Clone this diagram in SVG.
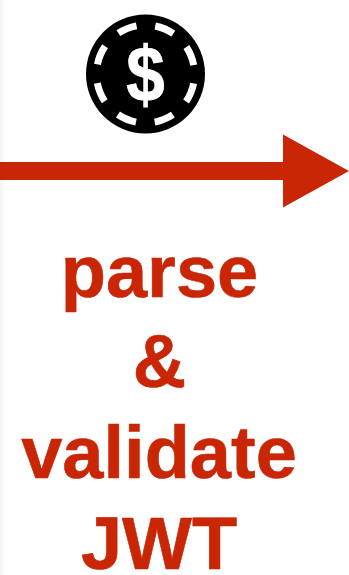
<svg xmlns="http://www.w3.org/2000/svg" width="349" height="575" viewBox="0 0 349 575">
<defs><linearGradient id="edge" x1="0" x2="1" y1="0" y2="0"><stop offset="0" stop-color="#f3f3f3"/><stop offset="1" stop-color="#ffffff"/></linearGradient></defs>
<style>
.label{font-family:"Liberation Sans",Arial,sans-serif;font-weight:700;font-size:74px;fill:#c92606;stroke:#c92606;stroke-width:.6px;text-anchor:middle}
</style>
<rect width="349" height="575" fill="#ffffff"/>
<rect width="6" height="575" fill="url(#edge)"/>
<g id="coin">
<circle cx="145.5" cy="74" r="59.5" fill="#000000"/>
<circle cx="145.5" cy="74" r="49" fill="none" stroke="#ffffff" stroke-width="7" stroke-dasharray="19.7 18.79" stroke-dashoffset="-9.4"/>
<text transform="translate(145.5,101) scale(.96,1.08)" font-family="'Liberation Sans',Arial,sans-serif" font-weight="700" font-size="72" fill="#ffffff" stroke="#ffffff" stroke-width=".8" text-anchor="middle">$</text>
</g>
<g id="connectors">
<polygon points="0,162 283,162 283,134.5 349,171 283,207.5 283,180 0,180" fill="#c92606"/>
</g>
<g id="caption">
<text class="label" x="159.5" y="296.5">parse</text>
<text class="label" x="159.5" y="387">&amp;</text>
<text class="label" x="159" y="478">validate</text>
<text class="label" x="159" y="569">JWT</text>
</g>
</svg>
